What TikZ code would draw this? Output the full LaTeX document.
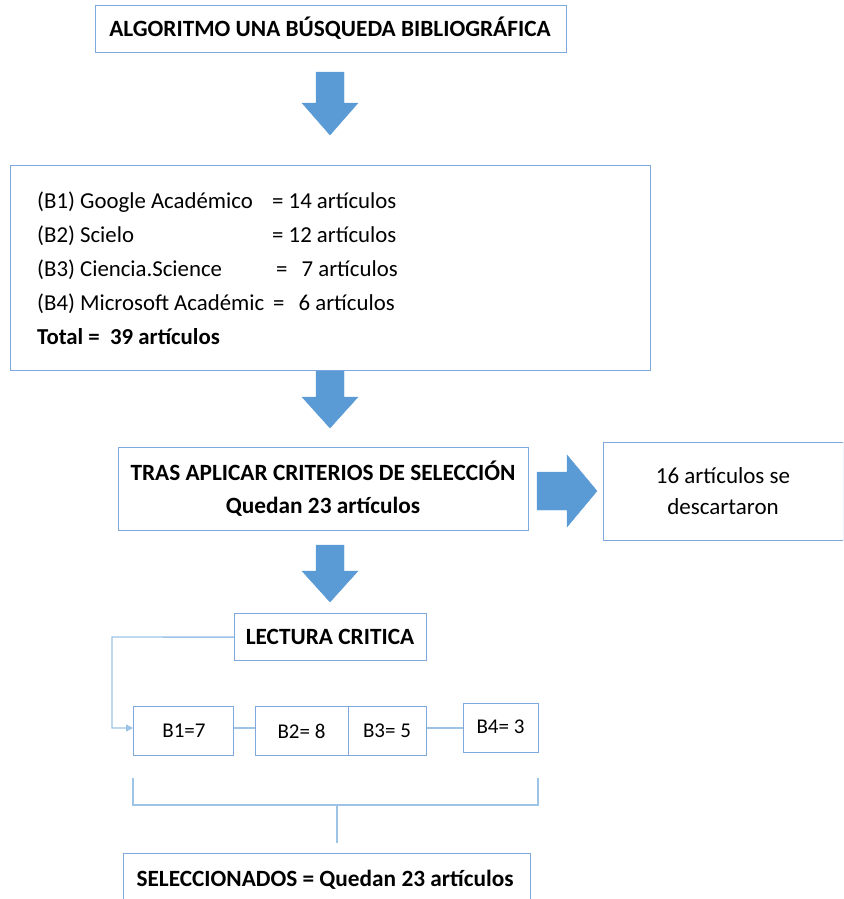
\documentclass[tikz,border=0pt]{standalone}
\usepackage{fontspec}
\setmainfont{Carlito}
\usetikzlibrary{arrows.meta}
\definecolor{boxblue}{HTML}{7FA9DC}
\definecolor{arrblue}{HTML}{5B9BD5}
\definecolor{linblue}{HTML}{9DC3E6}
\begin{document}
\begin{tikzpicture}[x=1pt,y=-1pt,
  box/.style={draw=boxblue,line width=1.2pt,fill=white,inner sep=0pt,anchor=north west},
  blockarrow/.style={fill=arrblue,draw=arrblue,line width=0.4pt},
  conn/.style={draw=linblue,line width=1.4pt},
  bigtxt/.style={font=\fontsize{23.3}{33}\selectfont\bfseries},
  medtxt/.style={font=\fontsize{23}{31}\selectfont},
  linetxt/.style={font=\fontsize{22.8}{28}\selectfont,anchor=base west,inner sep=0pt},
  smtxt/.style={font=\fontsize{21}{25}\selectfont}]
\useasboundingbox (0,0) rectangle (843,899);
\clip (0,0) rectangle (843,899);
% title
\node[box,minimum width=471pt,minimum height=47pt] (title) at (95,5) {};
\node[bigtxt] (titletxt) at (330,28.5) {ALGORITMO UNA BÚSQUEDA BIBLIOGRÁFICA};
% arrow 1
\draw[blockarrow] (316,72) -- (344,72) -- (344,103) -- (358,103) -- (330,135) -- (302,103) -- (316,103) -- cycle;
% box 2
\node[box,minimum width=640pt,minimum height=205pt] (sources) at (10,165) {};
\node[linetxt] (l1) at (37,208) {(B1) Google Académico};
\node[linetxt] (e1) at (272,208) {= 14 artículos};
\node[linetxt] (l2) at (37,242) {(B2) Scielo};
\node[linetxt] (e2) at (272,242) {= 12 artículos};
\node[linetxt] (l3) at (37,276) {(B3) Ciencia.Science};
\node[linetxt] (e3) at (276,276) {=\ \ \,7 artículos};
\node[linetxt] (l4) at (37,310) {(B4) Microsoft Académic};
\node[linetxt] (e4) at (273,310) {=\ \ \,6 artículos};
\node[linetxt,font=\fontsize{22.8}{28}\selectfont\bfseries] (l5) at (37,344) {Total =\ \ 39 artículos};
% arrow 2
\draw[blockarrow] (316,371) -- (344,371) -- (344,397) -- (358,397) -- (330,428) -- (302,397) -- (316,397) -- cycle;
% box 3
\node[box,minimum width=410pt,minimum height=83pt] (criteria) at (118,447) {};
\node[bigtxt,align=center] (crittxt) at (323,489) {TRAS APLICAR CRITERIOS DE SELECCIÓN\\Quedan 23 artículos};
% right arrow
\draw[blockarrow] (537,472) -- (567,472) -- (567,455) -- (597,491) -- (567,527) -- (567,510) -- (537,510) -- cycle;
% box 4
\node[box,minimum width=240pt,minimum height=98pt] (discard) at (603,442) {};
\node[medtxt,align=center] (disctxt) at (723,491) {16 artículos se\\descartaron};
% arrow 3
\draw[blockarrow] (316,545) -- (344,545) -- (344,571) -- (358,571) -- (330,602) -- (302,571) -- (316,571) -- cycle;
% lectura critica
\node[box,minimum width=192pt,minimum height=47pt] (lectura) at (234,613) {};
\node[bigtxt] (lecttxt) at (330,637) {LECTURA CRITICA};
% B boxes
\node[box,minimum width=100pt,minimum height=49pt] (b1) at (133,706) {};
\node[smtxt] (b1t) at (184,731) {B1=7};
\node[box,minimum width=93pt,minimum height=49pt] (b2) at (255,706) {};
\node[smtxt] (b2t) at (301.5,731) {B2= 8};
\node[box,minimum width=78pt,minimum height=49pt] (b3) at (348,706) {};
\node[smtxt] (b3t) at (387,731) {B3= 5};
\node[box,minimum width=75pt,minimum height=49pt] (b4) at (463,703) {};
\node[smtxt] (b4t) at (500.5,727) {B4= 3};
% connectors
\coordinate (bend1) at (112,637);
\coordinate (bend2) at (112,728);
\draw[conn,-{Triangle[length=7pt,width=7pt]}] (lectura.west) -- (bend1) -- (bend2) -- (bend2 -| b1.west);
\draw[conn] (b1.east |- 0,728) -- (b2.west |- 0,728);
\draw[conn] (b3.east |- 0,728) -- (b4.west |- 0,728);
% bracket
\coordinate (brl) at (133,778);
\coordinate (brr) at (538,778);
\coordinate (brbl) at (133,805);
\coordinate (brbr) at (538,805);
\coordinate (brmid) at (337,805);
\coordinate (brend) at (337,843);
\draw[conn] (brl) -- (brbl) -- (brbr) -- (brr);
\draw[conn] (brmid) -- (brend);
% bottom box
\node[box,minimum width=407pt,minimum height=60pt] (selected) at (123,853) {};
\node[bigtxt,anchor=west] (seltxt) at (133,880) {SELECCIONADOS = Quedan 23 artículos};
\end{tikzpicture}
\end{document}
